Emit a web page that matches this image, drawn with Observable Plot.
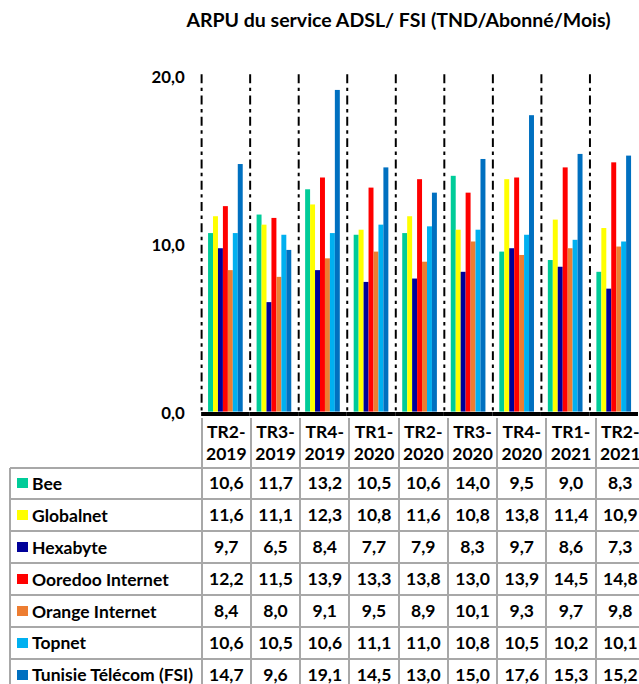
<!DOCTYPE html>
<html><head><meta charset="utf-8">
<script src="https://cdn.jsdelivr.net/npm/d3@7"></script>
<script src="https://cdn.jsdelivr.net/npm/@observablehq/plot@0.6"></script>
<style>
html,body{margin:0;padding:0;background:#fff;overflow:hidden;width:639px;height:684px;}
body{position:relative;font-family:Lato,"Open Sans",sans-serif;font-weight:700;color:#000;}
#title{position:absolute;left:100px;width:597px;top:5px;text-align:center;font-size:19.5px;line-height:30px;white-space:nowrap;}
#chart{position:absolute;left:0;top:50px;}
.cell{position:absolute;display:flex;flex-direction:column;align-items:center;justify-content:center;font-size:17.5px;line-height:22px;white-space:nowrap;}
.lab{position:absolute;display:flex;align-items:center;font-size:17.5px;white-space:nowrap;}
.sw{position:absolute;width:11px;height:10px;}
.hl{position:absolute;height:2px;background:#a8a8a8;}
.vl{position:absolute;width:2px;background:#a8a8a8;}
</style></head><body>
<div id="title">ARPU du service ADSL/ FSI (TND/Abonné/Mois)</div>
<div id="chart"></div>
<div id="table"></div>
<script>
const quarters = ["TR2-2019","TR3-2019","TR4-2019","TR1-2020","TR2-2020","TR3-2020","TR4-2020","TR1-2021","TR2-2021"];
const series = ["Bee","Globalnet","Hexabyte","Ooredoo Internet","Orange Internet","Topnet","Tunisie Télécom (FSI)"];
const colors = ["#00cc99","#ffff00","#000099","#ff0000","#ed7d31","#00b0f0","#0070c0"];
const bee       = [10.6,11.7,13.2,10.5,10.6,14.0,9.5,9.0,8.3];
const globalnet = [11.6,11.1,12.3,10.8,11.6,10.8,13.8,11.4,10.9];
const hexabyte  = [9.7,6.5,8.4,7.7,7.9,8.3,9.7,8.6,7.3];
const ooredoo   = [12.2,11.5,13.9,13.3,13.8,13.0,13.9,14.5,14.8];
const orange    = [8.4,8.0,9.1,9.5,8.9,10.1,9.3,9.7,9.8];
const topnet    = [10.6,10.5,10.6,11.1,11.0,10.8,10.5,10.2,10.1];
const tt        = [14.7,9.6,19.1,14.5,13.0,15.0,17.6,15.3,15.2];
const yTicks = [0,10,20];

const values = [bee,globalnet,hexabyte,ooredoo,orange,topnet,tt];
const data = series.flatMap((s,i)=>quarters.map((q,j)=>({series:s, quarter:q, value:values[i][j]})));
const fmt = d => d.toFixed(1).replace(".", ",");

const plot = Plot.plot({
  width:645, height:370, marginLeft:202, marginRight:0, marginTop:25, marginBottom:5,
  style:{fontFamily:"Lato, sans-serif", fontSize:"17px", fontWeight:700, background:"transparent", overflow:"visible", color:"#000"},
  fx:{domain:quarters, padding:0, axis:null},
  x:{domain:series, paddingInner:0, paddingOuter:0.68, axis:null},
  y:{domain:[0,20], axis:null},
  color:{domain:series, range:colors},
  marks:[
    Plot.barY(data,{fx:"quarter", x:"series", y:"value", fill:"series", inset:0}),
    Plot.frame({anchor:"left", stroke:"#000", strokeWidth:2, strokeDasharray:"7,6.5,1.5,6.5"}),
    Plot.ruleY([0],{stroke:"#000", strokeWidth:4, dy:2}),
    Plot.axisY({ticks:yTicks, tickFormat:fmt, tickSize:0, tickPadding:17, fontWeight:700, fontSize:17, label:null, dy:2})
  ]
});
document.getElementById("chart").appendChild(plot);

// data table
const tbl = document.getElementById("table");
const colX = j => 201.7 + j*49.25;
const colW = 49.25;
const headTop = 418, rowTop0 = 467.5, rowH = 31.9;
function el(cls, style, html){ const d=document.createElement("div"); d.className=cls; Object.assign(d.style, style); if(html!==undefined) d.innerHTML=html; tbl.appendChild(d); return d; }
quarters.forEach((q,j)=>{
  const [a,b] = q.split("-");
  el("cell",{left:colX(j)+"px", top:headTop+"px", width:colW+"px", height:(rowTop0-headTop)+"px"}, `<div>${a}-</div><div>${b}</div>`);
});
series.forEach((s,i)=>{
  const top = rowTop0 + i*rowH;
  el("sw",{left:"17px", top:(top+rowH/2-5)+"px", background:colors[i]});
  el("lab",{left:"32px", top:top+"px", height:rowH+"px"}, s);
  quarters.forEach((q,j)=>{
    el("cell",{left:colX(j)+"px", top:top+"px", width:colW+"px", height:rowH+"px"}, fmt(values[i][j]));
  });
});
for(let r=0;r<=series.length;r++){
  el("hl",{left:"10px", top:(rowTop0+r*rowH-1)+"px", width:"640px"});
}
el("vl",{left:"9px", top:rowTop0+"px", height:"260px"});
for(let j=0;j<=quarters.length;j++){
  el("vl",{left:(colX(j)-1)+"px", top:headTop+"px", height:"300px"});
}
</script>
</body></html>
